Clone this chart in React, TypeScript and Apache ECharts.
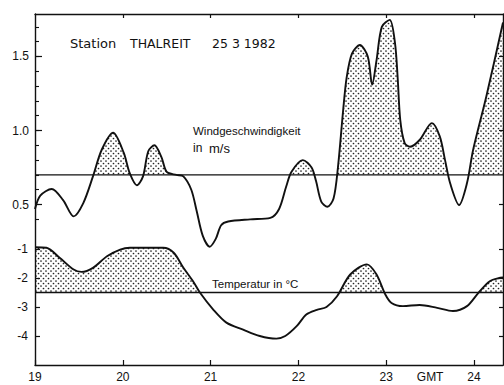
import React, { useEffect, useRef } from "react";
import * as echarts from "echarts";

// ---- data ----
const hourTicks = [19, 20, 21, 22, 23, 24];
const gmtPosition = 23.5;
const xMin = 19;
const xMax = 24.33;

const windReference = 0.7;
const tempReference = -2.5;

const windLabelValues = [0.5, 1.0, 1.5];
const windMinorTicks = [0.4, 0.5, 0.6, 0.7, 0.8, 0.9, 1.0, 1.1, 1.2, 1.3, 1.4, 1.5, 1.6, 1.7];
const tempLabelValues = [-1, -2, -3, -4];

const windHours = [
  19.0, 19.06, 19.19, 19.32, 19.44, 19.55, 19.66, 19.76, 19.89, 20.01, 20.08, 20.16, 20.23, 20.29,
  20.36, 20.44, 20.5, 20.61, 20.69, 20.78, 20.84, 20.91, 20.99, 21.06, 21.12, 21.2, 21.45, 21.68,
  21.78, 21.86, 21.92, 22.05, 22.15, 22.2, 22.26, 22.33, 22.4, 22.45, 22.51, 22.55, 22.61, 22.7,
  22.79, 22.84, 22.89, 22.95, 23.04, 23.1, 23.13, 23.16, 23.21, 23.27, 23.38, 23.52, 23.61, 23.67,
  23.73, 23.83, 23.92, 23.99, 24.14, 24.33,
];
const windValues = [
  0.47, 0.56, 0.605, 0.53, 0.42, 0.51, 0.69, 0.87, 0.985, 0.85, 0.71, 0.63, 0.69, 0.86,
  0.9, 0.82, 0.72, 0.7, 0.69, 0.6, 0.46, 0.29, 0.215, 0.27, 0.36, 0.385, 0.4, 0.41,
  0.47, 0.62, 0.72, 0.8, 0.75, 0.66, 0.52, 0.485, 0.54, 0.75, 1.14, 1.36, 1.52, 1.578,
  1.5, 1.31, 1.476, 1.7, 1.747, 1.59, 1.36, 1.07, 0.915, 0.89, 0.936, 1.05, 0.96, 0.8,
  0.64, 0.497, 0.645, 0.87, 1.23, 1.73,
];

const tempHours = [
  19.0, 19.13, 19.28, 19.44, 19.53, 19.66, 19.82, 19.97, 20.08, 20.46, 20.58, 20.69, 20.8, 20.88,
  21.03, 21.18, 21.37, 21.56, 21.75, 21.85, 21.98, 22.09, 22.21, 22.32, 22.44, 22.59, 22.78, 22.89,
  22.99, 23.06, 23.19, 23.38, 23.58, 23.76, 23.92, 24.05, 24.18, 24.3, 24.33,
];
const tempValues = [
  -0.94, -0.96, -1.3, -1.71, -1.79, -1.65, -1.25, -1.02, -0.96, -0.96, -1.13, -1.65, -2.11, -2.51,
  -3.09, -3.54, -3.78, -4.0, -4.09, -4.0, -3.66, -3.26, -3.1, -3.0, -2.63, -1.88, -1.53, -1.88,
  -2.57, -2.86, -2.97, -2.93, -3.03, -3.14, -2.97, -2.51, -2.11, -1.99, -1.98,
];

const windMin = -0.584;
const windMax = 1.787;
const tempMin = -5;
const tempMax = 7.1;

const FONT = "Liberation Sans";
const WIDE_FONT = "DejaVu Sans";

function makeDotPattern(): HTMLCanvasElement {
  const c = document.createElement("canvas");
  c.width = 5;
  c.height = 5;
  const ctx = c.getContext("2d")!;
  ctx.fillStyle = "#ffffff";
  ctx.fillRect(0, 0, 5, 5);
  ctx.fillStyle = "#222222";
  ctx.beginPath();
  ctx.arc(1, 1, 0.85, 0, Math.PI * 2);
  ctx.fill();
  ctx.beginPath();
  ctx.arc(3.5, 3.5, 0.85, 0, Math.PI * 2);
  ctx.fill();
  return c;
}

export default function App() {
  const ref = useRef<HTMLDivElement>(null);

  useEffect(() => {
    if (!ref.current) return;
    const chart = echarts.init(ref.current, undefined, { renderer: "svg" });
    const pattern: any = { image: makeDotPattern(), repeat: "repeat", imageWidth: 5, imageHeight: 5 };

    const wind = windHours.map((h, i) => [h, windValues[i]]);
    const temp = tempHours.map((h, i) => [h, tempValues[i]]);
    const windRefLine = [[xMin, windReference], [xMax, windReference]];
    const tempRefLine = [[xMin, tempReference], [xMax, tempReference]];

    const lineCommon = { type: "line", symbol: "none", silent: true, animation: false };
    const axisLineStyle = { show: true, lineStyle: { color: "#111", width: 1.4 } };
    const labelStyle = { color: "#111", fontFamily: FONT, fontSize: 12 };
    const txt = (text: string, x: number, y: number, size: number, family = FONT) => ({
      type: "text",
      x,
      y,
      z: 100,
      style: { text, fontFamily: family, fontSize: size, fill: "#111", verticalAlign: "middle" },
    });

    chart.setOption({
      animation: false,
      grid: { left: 35, right: 1, top: 14, bottom: 20, containLabel: false, outerBoundsMode: "none" },
      xAxis: [
        {
          type: "value",
          min: xMin,
          max: xMax,
          position: "bottom",
          z: 10,
          splitLine: { show: false },
          axisLine: { ...axisLineStyle, onZero: false },
          axisTick: { show: true, inside: true, length: 5, customValues: hourTicks, lineStyle: { color: "#111", width: 1.2 } },
          axisLabel: {
            ...labelStyle,
            margin: 6,
            customValues: [...hourTicks.slice(0, 5), gmtPosition, hourTicks[5]],
            formatter: (v: number) => (Math.abs(v - gmtPosition) < 1e-6 ? "GMT" : String(Math.round(v))),
          },
        },
        {
          type: "value",
          min: xMin,
          max: xMax,
          position: "top",
          z: 10,
          splitLine: { show: false },
          axisLine: { ...axisLineStyle, onZero: false },
          axisTick: { show: true, inside: true, length: 4, customValues: [20, 21, 22, 23, 24], lineStyle: { color: "#111", width: 1.2 } },
          axisLabel: { show: false },
        },
      ],
      yAxis: [
        {
          type: "value",
          min: windMin,
          max: windMax,
          position: "left",
          z: 10,
          splitLine: { show: false },
          axisLine: { ...axisLineStyle, onZero: false },
          axisTick: { show: true, inside: true, length: 4, customValues: windMinorTicks, lineStyle: { color: "#111", width: 1.1 } },
          axisLabel: { ...labelStyle, margin: 6, customValues: windLabelValues, formatter: (v: number) => v.toFixed(1) },
        },
        {
          type: "value",
          min: tempMin,
          max: tempMax,
          position: "left",
          z: 10,
          splitLine: { show: false },
          axisLine: { show: false, onZero: false },
          axisTick: { show: true, inside: true, length: 5, customValues: tempLabelValues, lineStyle: { color: "#111", width: 1.2 } },
          axisLabel: { ...labelStyle, margin: 7, customValues: tempLabelValues, formatter: (v: number) => String(v) },
        },
        {
          type: "value",
          min: windMin,
          max: windMax,
          position: "left",
          z: 10,
          splitLine: { show: false },
          axisLine: { show: false, onZero: false },
          axisTick: { show: true, inside: true, length: 7, customValues: windLabelValues, lineStyle: { color: "#111", width: 1.2 } },
          axisLabel: { show: false },
        },
        {
          type: "value",
          min: windMin,
          max: windMax,
          position: "right",
          z: 10,
          splitLine: { show: false },
          axisLine: { ...axisLineStyle, onZero: false },
          axisTick: { show: true, inside: true, length: 4, customValues: windLabelValues, lineStyle: { color: "#111", width: 1.2 } },
          axisLabel: { show: false },
        },
        {
          type: "value",
          min: tempMin,
          max: tempMax,
          position: "right",
          z: 10,
          splitLine: { show: false },
          axisLine: { show: false, onZero: false },
          axisTick: { show: true, inside: true, length: 4, customValues: tempLabelValues, lineStyle: { color: "#111", width: 1.2 } },
          axisLabel: { show: false },
        },
      ],
      series: [
        {
          ...lineCommon,
          name: "windFill",
          xAxisIndex: 0,
          yAxisIndex: 0,
          data: wind,
          smooth: 0.3,
          z: 1,
          lineStyle: { width: 0, opacity: 0 },
          areaStyle: { color: pattern, opacity: 1, origin: "start" },
        },
        {
          ...lineCommon,
          name: "windMask",
          xAxisIndex: 0,
          yAxisIndex: 0,
          data: windRefLine,
          z: 2,
          lineStyle: { color: "#111", width: 1.4 },
          areaStyle: { color: "#ffffff", opacity: 1, origin: "start" },
        },
        {
          ...lineCommon,
          name: "tempFill",
          xAxisIndex: 0,
          yAxisIndex: 1,
          data: temp,
          smooth: 0.3,
          z: 3,
          lineStyle: { width: 0, opacity: 0 },
          areaStyle: { color: pattern, opacity: 1, origin: "start" },
        },
        {
          ...lineCommon,
          name: "tempMask",
          xAxisIndex: 0,
          yAxisIndex: 1,
          data: tempRefLine,
          z: 4,
          lineStyle: { color: "#111", width: 1.4 },
          areaStyle: { color: "#ffffff", opacity: 1, origin: "start" },
        },
        {
          ...lineCommon,
          name: "Windgeschwindigkeit",
          xAxisIndex: 0,
          yAxisIndex: 0,
          data: wind,
          smooth: 0.3,
          z: 5,
          lineStyle: { color: "#111", width: 1.9 },
        },
        {
          ...lineCommon,
          name: "Temperatur",
          xAxisIndex: 0,
          yAxisIndex: 1,
          data: temp,
          smooth: 0.3,
          z: 5,
          lineStyle: { color: "#111", width: 1.9 },
        },
      ],
      graphic: [
        txt("Station", 70, 43, 13, WIDE_FONT),
        txt("THALREIT", 130, 43, 12.5, WIDE_FONT),
        txt("25 3 1982", 212, 43, 12.5, WIDE_FONT),
        txt("Windgeschwindigkeit", 193, 131, 11.5),
        txt("in", 193, 148, 12),
        txt("m/s", 209, 148, 13),
        txt("Temperatur in °C", 212, 284, 11.5),
      ],
    });

    return () => chart.dispose();
  }, []);

  return <div ref={ref} style={{ width: 504, height: 385, position: "absolute", left: 0, top: 0, background: "#fff" }} />;
}
